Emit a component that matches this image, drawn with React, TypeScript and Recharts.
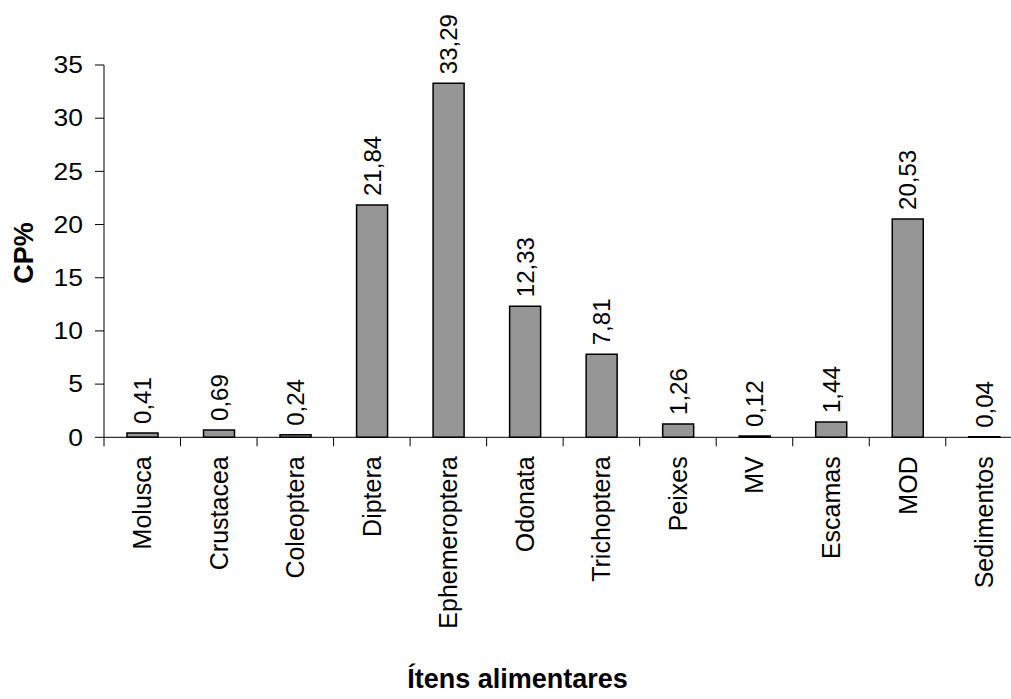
import { BarChart, Bar, XAxis, YAxis, LabelList, Label } from 'recharts';

const categories = [
  'Molusca', 'Crustacea', 'Coleoptera', 'Diptera', 'Ephemeroptera', 'Odonata',
  'Trichoptera', 'Peixes', 'MV', 'Escamas', 'MOD', 'Sedimentos',
];
const cpValues = [0.41, 0.69, 0.24, 21.84, 33.29, 12.33, 7.81, 1.26, 0.12, 1.44, 20.53, 0.04];
const yTicks = [0, 5, 10, 15, 20, 25, 30, 35];

const data = categories.map((name, i) => ({ name, cp: cpValues[i] }));

const FONT = 'Arial, "Liberation Sans", sans-serif';
const BAR_FILL = '#969696';
const AXIS_COLOR = '#000000';

const fmt = (v: number) => v.toFixed(2).replace('.', ',');

function CategoryTick(props: any) {
  const { x, y, payload } = props;
  const half = payload?.offset ?? 38.27;
  return (
    <g>
      <line x1={x - half} y1={y} x2={x - half} y2={y + 9} stroke={AXIS_COLOR} strokeWidth={1} />
      <text
        transform={`translate(${x + 9},${y + 19}) rotate(-90)`}
        textAnchor="end"
        fontFamily={FONT}
        fontSize={25}
        fill="#000"
      >
        {payload.value}
      </text>
    </g>
  );
}

// the y tick numbers in the original are drawn a little wider than normal
function ValueTick(props: any) {
  const { x, y, payload } = props;
  return (
    <text
      transform={`translate(${x},${y}) scale(1.15,1)`}
      textAnchor="end"
      dy="0.36em"
      fontFamily={FONT}
      fontSize={23}
      fill="#000"
    >
      {payload.value}
    </text>
  );
}

function ValueLabel(props: any) {
  const { x, y, width, value } = props;
  return (
    <text
      transform={`translate(${x + width / 2 + 8.5},${y - 9}) rotate(-90)`}
      textAnchor="start"
      fontFamily={FONT}
      fontSize={24}
      fill="#000"
    >
      {fmt(Number(value))}
    </text>
  );
}

export default function App() {
  return (
    <div style={{ position: 'absolute', left: 0, top: 0, width: 1011, height: 699, overflow: 'hidden', background: '#fff' }}>
      <BarChart
        width={1040}
        height={699}
        data={data}
        margin={{ top: 65, right: 17.7, left: 44, bottom: 231.7 }}
      >
        <XAxis
          dataKey="name"
          interval={0}
          height={30}
          tickLine={false}
          tickSize={0}
          tickMargin={0}
          axisLine={{ stroke: AXIS_COLOR, strokeWidth: 1 }}
          tick={<CategoryTick />}
        >
          <Label
            content={() => (
              <text x={517.5} y={688} textAnchor="middle" fontFamily={FONT} fontSize={27} fontWeight="bold" fill="#000">
                Ítens alimentares
              </text>
            )}
          />
        </XAxis>
        <YAxis
          width={60}
          domain={[0, 35]}
          ticks={yTicks}
          interval={0}
          tickSize={9}
          tickMargin={12}
          axisLine={{ stroke: AXIS_COLOR, strokeWidth: 1 }}
          tickLine={{ stroke: AXIS_COLOR, strokeWidth: 1 }}
          tick={<ValueTick />}
        >
          <Label
            content={() => (
              <text
                transform="translate(33,253) rotate(-90)"
                textAnchor="middle"
                fontFamily={FONT}
                fontSize={27}
                fontWeight="bold"
                fill="#000"
              >
                CP%
              </text>
            )}
          />
        </YAxis>
        <Bar dataKey="cp" fill={BAR_FILL} stroke="#000" strokeWidth={1.5} barSize={31} isAnimationActive={false}>
          <LabelList dataKey="cp" content={<ValueLabel />} />
        </Bar>
      </BarChart>
    </div>
  );
}
